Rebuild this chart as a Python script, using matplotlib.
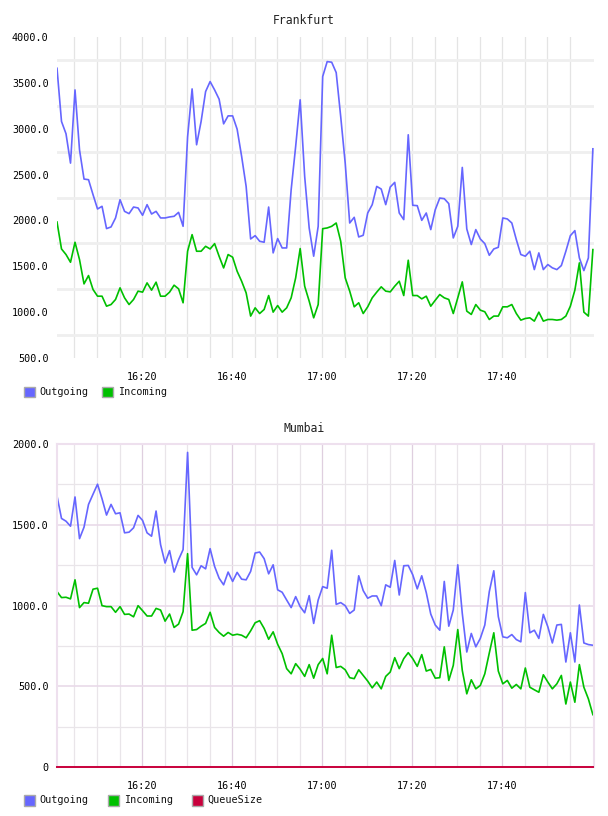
import matplotlib
matplotlib.use('Agg')
import matplotlib.pyplot as plt
import matplotlib.dates as mdates
from matplotlib.patches import Rectangle
from matplotlib.ticker import FixedLocator, FuncFormatter
from datetime import datetime, timedelta

# ---------------- data ----------------
start_time = datetime(2013, 1, 1, 16, 1, 7)
n_points = 120
times = [start_time + timedelta(minutes=i) for i in range(n_points)]

frankfurt_outgoing = [
    3659, 3079, 2945, 2625, 3423, 2770, 2451, 2444, 2281, 2125,
    2154, 1911, 1929, 2027, 2226, 2099, 2074, 2146, 2136, 2056,
    2172, 2070, 2099, 2027, 2027, 2038, 2045, 2088, 1936, 2911,
    3434, 2825, 3079, 3405, 3514, 3423, 3322, 3053, 3140, 3140,
    2995, 2698, 2371, 1798, 1834, 1773, 1762, 2146, 1646, 1802,
    1700, 1700, 2335, 2807, 3315, 2480, 1918, 1610, 1936, 3569,
    3732, 3725, 3612, 3133, 2625, 1972, 2034, 1820, 1838, 2081,
    2172, 2371, 2342, 2172, 2364, 2415, 2081, 2009, 2934, 2165,
    2161, 2001, 2081, 1900, 2117, 2244, 2237, 2183, 1809, 1936,
    2578, 1907, 1737, 1900, 1798, 1747, 1620, 1689, 1707, 2027,
    2016, 1972, 1791, 1628, 1610, 1664, 1464, 1646, 1464, 1519,
    1483, 1464, 1508, 1664, 1834, 1889, 1591, 1453, 1591, 2781,
]
frankfurt_incoming = [
    1983, 1689, 1628, 1544, 1762, 1573, 1308, 1399, 1247, 1174,
    1174, 1065, 1083, 1138, 1265, 1156, 1083, 1138, 1229, 1218,
    1319, 1240, 1327, 1174, 1174, 1218, 1294, 1254, 1102, 1664,
    1845, 1664, 1664, 1718, 1689, 1747, 1609, 1482, 1628, 1599,
    1446, 1337, 1210, 957, 1047, 985, 1029, 1181, 1000, 1072,
    1000, 1047, 1156, 1374, 1693, 1283, 1120, 938, 1083, 1910,
    1918, 1936, 1972, 1773, 1374, 1229, 1058, 1102, 985, 1058,
    1156, 1218, 1276, 1229, 1221, 1283, 1337, 1181, 1566, 1181,
    1181, 1145, 1174, 1065, 1130, 1192, 1156, 1138, 985, 1156,
    1330, 1011, 975, 1083, 1022, 1004, 920, 957, 957, 1058,
    1058, 1083, 985, 913, 931, 938, 902, 1000, 902, 920,
    920, 913, 920, 957, 1065, 1240, 1537, 1000, 957, 1682,
]
mumbai_outgoing = [
    1678, 1539, 1522, 1491, 1672, 1414, 1485, 1626, 1689, 1751,
    1661, 1560, 1626, 1568, 1574, 1450, 1454, 1481, 1558, 1527,
    1450, 1429, 1585, 1377, 1263, 1340, 1207, 1284, 1346, 1948,
    1236, 1190, 1246, 1227, 1352, 1242, 1169, 1128, 1207, 1149,
    1205, 1163, 1159, 1211, 1325, 1331, 1290, 1196, 1252, 1097,
    1082, 1034, 987, 1055, 993, 955, 1061, 889, 1034, 1117,
    1107, 1342, 1007, 1018, 999, 951, 972, 1184, 1092, 1045,
    1059, 1059, 999, 1128, 1113, 1279, 1065, 1246, 1248, 1190,
    1103, 1184, 1080, 947, 879, 847, 1149, 872, 972, 1252,
    951, 712, 827, 744, 796, 879, 1086, 1215, 931, 806,
    800, 820, 789, 775, 1080, 831, 847, 796, 945, 868,
    768, 879, 883, 650, 831, 650, 1003, 768, 758, 754,
]
mumbai_incoming = [
    1086, 1049, 1051, 1041, 1159, 987, 1018, 1014, 1101, 1107,
    999, 993, 993, 958, 993, 945, 947, 930, 999, 968,
    935, 935, 982, 972, 903, 947, 864, 885, 962, 1321,
    847, 851, 872, 889, 958, 864, 833, 810, 833, 816,
    822, 816, 800, 843, 893, 906, 858, 791, 837, 760,
    702, 609, 577, 640, 605, 561, 634, 550, 634, 672,
    577, 816, 616, 623, 602, 553, 547, 602, 567, 532,
    490, 526, 484, 561, 588, 677, 609, 671, 708, 671,
    623, 696, 594, 604, 550, 553, 744, 536, 629, 851,
    598, 453, 540, 484, 505, 577, 706, 831, 594, 515,
    536, 488, 511, 484, 613, 494, 478, 463, 571, 526,
    484, 515, 567, 390, 526, 401, 634, 494, 422, 324,
]
mumbai_queuesize = [0] * n_points

x_tick_times = ['16:20', '16:40', '17:00', '17:20', '17:40']
x_grid_times = ['16:05', '16:10', '16:15', '16:25', '16:30', '16:35', '16:45',
                '16:50', '16:55', '17:05', '17:10', '17:15', '17:25', '17:30',
                '17:35', '17:45', '17:50', '17:55']
frankfurt_yticks = [500, 1000, 1500, 2000, 2500, 3000, 3500, 4000]
frankfurt_ygrid = [750, 1250, 1750, 2250, 2750, 3250, 3750]
mumbai_yticks = [0, 500, 1000, 1500, 2000]
mumbai_ygrid = [250, 750, 1250, 1750]

series_labels_frankfurt = ['Outgoing', 'Incoming']
series_labels_mumbai = ['Outgoing', 'Incoming', 'QueueSize']

# ---------------- style ----------------
C_OUT = '#6666ff'
C_IN = '#00c000'
C_Q = '#c8003c'
FONT = 'DejaVu Sans Mono'
FS = 7.3
W, H = 608, 816

fig = plt.figure(figsize=(W / 100, H / 100), dpi=100)


def hm(s):
    h, m = s.split(':')
    return mdates.date2num(start_time.replace(hour=int(h), minute=int(m), second=0))


def px_axes(left, top, right, bottom):
    return fig.add_axes([left / W, 1 - bottom / H, (right - left) / W, (bottom - top) / H])


def ylab(v, pos=None):
    return '0' if v == 0 else f'{v:.1f}'


def common(ax, yticks, ygrid, major_grid_color, minor_grid_color, hgrid_color, hgrid_w):
    ax.set_xlim(times[0], times[-1] + timedelta(seconds=15))
    ax.set_ylim(yticks[0], yticks[-1])
    ax.xaxis.set_major_locator(FixedLocator([hm(t) for t in x_tick_times]))
    ax.xaxis.set_major_formatter(mdates.DateFormatter('%H:%M'))
    ax.xaxis.set_minor_locator(FixedLocator([hm(t) for t in x_grid_times]))
    ax.yaxis.set_major_locator(FixedLocator(yticks))
    ax.yaxis.set_major_formatter(FuncFormatter(ylab))
    ax.yaxis.set_minor_locator(FixedLocator(ygrid))
    ax.tick_params(which='both', length=0)
    ax.tick_params(axis='x', pad=10, labelsize=FS)
    ax.tick_params(axis='y', pad=6, labelsize=FS)
    for lab in ax.get_xticklabels() + ax.get_yticklabels():
        lab.set_family(FONT)
    ax.grid(True, axis='x', which='major', color=major_grid_color, lw=0.9)
    ax.grid(True, axis='x', which='minor', color=minor_grid_color, lw=0.9)
    ax.grid(True, axis='y', which='minor', color=hgrid_color, lw=hgrid_w)
    ax.set_axisbelow(True)


# ---------------- Frankfurt ----------------
ax1 = px_axes(57, 37, 594, 358)
common(ax1, frankfurt_yticks, frankfurt_ygrid, '#e4e4e4', '#e4e4e4', '#efefef', 2.0)
for s in ax1.spines.values():
    s.set_visible(False)
ax1.plot(times, frankfurt_outgoing, color=C_OUT, lw=1.2)
ax1.plot(times, frankfurt_incoming, color=C_IN, lw=1.2)
fig.text(0.5, 1 - 20 / H, 'Frankfurt', ha='center', va='center', family=FONT, fontsize=8.3, color='#222222')

# ---------------- Mumbai ----------------
ax2 = px_axes(57, 444, 594, 767)
common(ax2, mumbai_yticks, mumbai_ygrid, '#dfcfdf', '#e9e5e9', '#e9e5e9', 0.9)
ax2.grid(True, axis='y', which='major', color='#e9dae9', lw=1.2)
for s in ax2.spines.values():
    s.set_color('#eee0ee')
    s.set_linewidth(1.5)
ax2.plot(times, mumbai_outgoing, color=C_OUT, lw=1.2)
ax2.plot(times, mumbai_incoming, color=C_IN, lw=1.2)
ax2.plot(times, mumbai_queuesize, color=C_Q, lw=1.4, clip_on=False, zorder=5)
fig.text(0.5, 1 - 428 / H, 'Mumbai', ha='center', va='center', family=FONT, fontsize=8.3, color='#222222')


# ---------------- legends ----------------
def legend(y, labels, colors, xs):
    for (xb, xt), lab, col in zip(xs, labels, colors):
        fig.add_artist(Rectangle((xb / W, 1 - (y + 5.5) / H), 11 / W, 11 / H,
                                 transform=fig.transFigure, facecolor=col,
                                 edgecolor='#aaaaaa', lw=1.0))
        fig.text(xt / W, 1 - y / H, lab, ha='left', va='center', family=FONT,
                 fontsize=FS, color='#111111')


legend(392, series_labels_frankfurt, [C_OUT, C_IN], [(24, 39), (102, 118)])
legend(800, series_labels_mumbai, [C_OUT, C_IN, C_Q], [(24, 39), (108, 124), (192, 207)])

fig.savefig('out.png', dpi=100)
